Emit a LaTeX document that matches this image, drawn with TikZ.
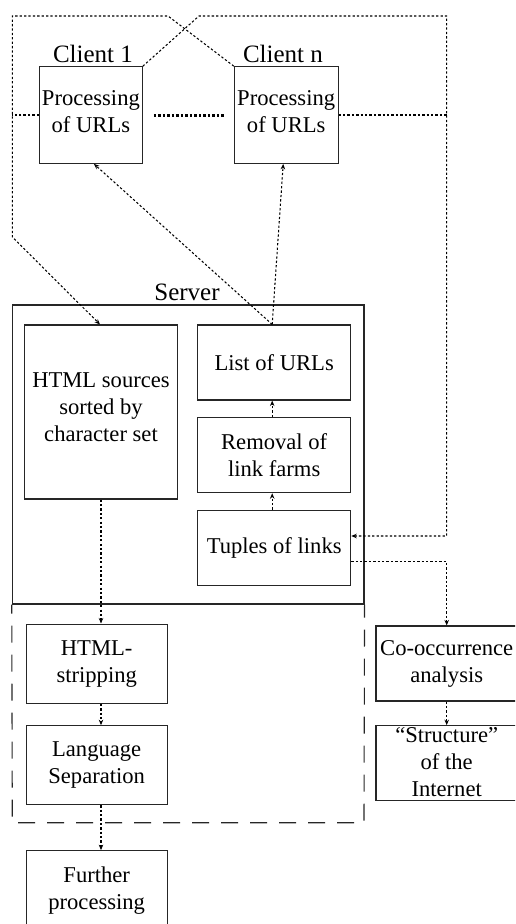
\documentclass[tikz,border=0pt]{standalone}
\usepackage{fontspec}
\setmainfont{Liberation Serif}
\usetikzlibrary{arrows.meta}

\begin{document}
\begin{tikzpicture}[x=1pt,y=-1pt,
  box/.style={draw=black!85,line width=1.1pt,rectangle,inner sep=0pt},
  txt/.style={align=center,inner sep=0pt,font=\fontsize{22.6}{27}\selectfont},
  ttl/.style={inner sep=0pt,anchor=base,font=\fontsize{25}{30}\selectfont},
  flow/.style={line width=1.05pt,dash pattern=on 2.3pt off 2.1pt,black},
  arr/.style={flow,-{Stealth[length=5.5pt,width=4.5pt]}},
  region/.style={line width=1.1pt,black!85,dash pattern=on 17pt off 12pt}]

\useasboundingbox (0,0) rectangle (515,924);
\clip (0,0) rectangle (515,924);

% clients
\node[box,minimum width=102.8pt,minimum height=96.6pt] (c1) at (90.9,115) {};
\node[box,minimum width=103.7pt,minimum height=96.6pt] (cn) at (286.2,115) {};
\node[txt] (c1t) at (90.9,112) {Processing\\of URLs};
\node[txt] (cnt) at (286.2,112) {Processing\\of URLs};
\node[ttl] (c1l) at (93,62.7) {Client 1};
\node[ttl] (cnl) at (283,62.7) {Client n};
\draw[line width=3pt,dash pattern=on 2.6pt off 1.9pt] ([xshift=11pt]c1.east) -- ([xshift=-10pt]cn.west);

% server
\node[box,minimum width=351.7pt,minimum height=299pt] (srv) at (188.15,454.5) {};
\node[ttl] (srvl) at (187,300) {Server};
\node[box,minimum width=153.4pt,minimum height=174pt] (hsrc) at (101,412) {};
\node[txt] (hsrct) at (101,407.7) {HTML sources\\sorted by\\character set};
\node[box,txt,minimum width=153pt,minimum height=75pt] (lst) at (274.2,362.5) {List of URLs};
\node[box,txt,minimum width=153pt,minimum height=75pt] (rem) at (274.2,455.2) {Removal of\\link farms};
\node[box,txt,minimum width=153pt,minimum height=75pt] (tup) at (274.2,547.8) {Tuples of links};

% processing below the server
\node[box,txt,minimum width=141.3pt,minimum height=79.3pt] (strip) at (96.7,663.7) {HTML-\\stripping};
\node[box,txt,minimum width=141.3pt,minimum height=79pt] (lang) at (96.7,765.2) {Language\\Separation};
\node[box,txt,minimum width=141.3pt,minimum height=79pt] (fur) at (96.7,890.2) {Further\\processing};
\node[box,txt,minimum width=141.4pt,minimum height=75pt] (coo) at (446.7,663.5) {Co-occurrence\\analysis};
\node[box,minimum width=141.4pt,minimum height=75pt] (str) at (446.7,763.2) {};
\node[txt] (strt) at (446.7,762.3) {“Structure”\\of the\\Internet};

% dashed region under the server
\draw[region,dash phase=8pt] (srv.south west) -- (12.3,822.7) coordinate (rbl) -- (364,822.7) coordinate (rbr) -- (srv.south east);

% routing points of the client links
\coordinate (tl) at (12.3,16);
\coordinate (kl) at (168,16);
\coordinate (kr) at (199,16);
\coordinate (tr) at (446.7,16);
\coordinate (bl) at (12.3,237);

% clients -> HTML sources (left rail)
\draw[flow] (c1.west) -- (c1.west -| tl);
\draw[arr] (cn.north west) -- (kl) -- (tl) -- (bl) -- ([xshift=-1pt]hsrc.north);

% clients -> tuples of links (right rail)
\draw[flow] (cn.east) -- (cn.east -| tr);
\draw[arr] (c1.north east) -- (kr) -- (tr) -- (tr |- 0,536) -- ([yshift=11.8pt]tup.east);

% list of URLs -> clients
\draw[arr] ([xshift=-2pt]lst.north) -- ([xshift=3pt]c1.south);
\draw[arr] ([xshift=-2pt]lst.north) -- ([xshift=-3pt]cn.south);

% link pipeline inside the server
\draw[arr] ([xshift=-2pt]tup.north) -- ([xshift=-2pt]rem.south);
\draw[arr] ([xshift=-2pt]rem.north) -- ([xshift=-2pt]lst.south);

% tuples -> co-occurrence -> structure
\draw[arr] ([yshift=-13.9pt]tup.east) -- ([yshift=-13.9pt]tup.east -| coo.north) -- (coo.north);
\draw[arr] (coo.south) -- (str.north);

% text pipeline
\draw[arr] (hsrc.south) -- (hsrc.south |- strip.north);
\draw[arr] (hsrc.south |- strip.south) -- (hsrc.south |- lang.north);
\draw[arr] (hsrc.south |- lang.south) -- (hsrc.south |- fur.north);
\end{tikzpicture}
\end{document}
